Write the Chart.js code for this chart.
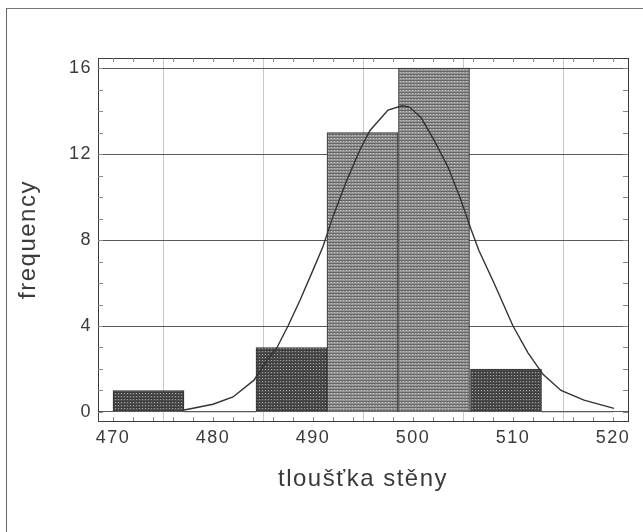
<!DOCTYPE html>
<html>
<head>
<meta charset="utf-8">
<title>tloušťka stěny</title>
<script src="https://cdn.jsdelivr.net/npm/chart.js@4"></script>
<style>
  body { margin: 0; background: #fff; }
  #frame { position: absolute; left: 6px; top: 8px; width: 700px; height: 600px; border-left: 1.5px solid #666; border-top: 1px solid #777; }
  #chart { position: absolute; left: 0; top: 0; }
</style>
</head>
<body>
<div id="frame"></div>
<canvas id="chart" width="643" height="532"></canvas>
<script>
// histogram bins (edges) and counts
const binEdges = [470, 477.1, 484.3, 491.4, 498.5, 505.7, 512.9, 520];
const binCounts = [1, 0, 3, 13, 16, 2, 0];

// fitted normal curve
const curveX = [477.0, 480.0, 482.0, 484.1, 485.4, 486.4, 487.5, 488.7, 490.0, 491.0,
  492.0, 493.4, 494.7, 495.7, 497.5, 498.9, 499.6, 500.8, 502.1, 503.5,
  504.8, 505.8, 506.6, 508.1, 510.0, 511.5, 513.0, 514.8, 517.1, 520.1];
const curveY = [0.08, 0.36, 0.7, 1.48, 2.4, 3.0, 4.0, 5.2, 6.6, 7.7,
  9.1, 10.8, 12.2, 13.1, 14.05, 14.25, 14.2, 13.7, 12.65, 11.4,
  9.85, 8.5, 7.5, 6.0, 4.0, 2.75, 1.75, 1.0, 0.55, 0.17];

const xTicks = [470, 480, 490, 500, 510, 520];
const yTicks = [0, 4, 8, 12, 16];

const xTitle = 'tloušťka stěny';
const yTitle = 'frequency';

function makePattern(base, line, dot) {
  let c = document.createElement('canvas');
  c.width = 3;
  c.height = 3;
  let g = c.getContext('2d');
  g.fillStyle = base;
  g.fillRect(0, 0, 3, 3);
  g.fillStyle = line;
  g.fillRect(0, 2, 3, 1);
  g.fillStyle = dot;
  g.fillRect(1, 0, 1, 1);
  return g.createPattern(c, 'repeat');
}

const darkFill = makePattern('#4e4e4e', '#3c3c3c', '#a0a0a0');
const lightFill = makePattern('#949494', '#666666', '#c4c4c4');

// frame round the plot, minor ticks, wider text like the scan
const framePlugin = {
  id: 'frame',
  beforeDraw(chart) {
    chart.ctx.letterSpacing = '1.5px';
  },
  afterDraw(chart) {
    const { ctx, chartArea: a, scales } = chart;
    ctx.save();
    ctx.strokeStyle = '#3a3a3a';
    ctx.lineWidth = 1;
    ctx.strokeRect(a.left + 0.5, a.top + 0.5, a.right - a.left, a.bottom - a.top);
    ctx.beginPath();
    for (let v = 0; v <= 16; v++) {
      let y = Math.round(scales.y.getPixelForValue(v)) + 0.5;
      ctx.moveTo(a.left, y);
      ctx.lineTo(a.left + 5, y);
      ctx.moveTo(a.right, y);
      ctx.lineTo(a.right - 5, y);
    }
    for (let v = 470; v <= 520; v += 2) {
      let x = Math.round(scales.x.getPixelForValue(v)) + 0.5;
      ctx.moveTo(x, a.top);
      ctx.lineTo(x, a.top + 4);
      ctx.moveTo(x, a.bottom);
      ctx.lineTo(x, a.bottom - 4);
    }
    ctx.strokeStyle = '#888';
    ctx.stroke();
    ctx.restore();
  }
};

const tickFont = { family: '"Liberation Sans", Arial, sans-serif', size: 18 };
const titleFont = { family: '"Liberation Sans", Arial, sans-serif', size: 24 };

new Chart(document.getElementById('chart'), {
  type: 'bar',
  data: {
    datasets: [
      {
        type: 'line',
        data: curveX.map((x, i) => ({ x: x, y: curveY[i] })),
        borderColor: '#333',
        borderWidth: 1.4,
        pointRadius: 0,
        tension: 0,
        order: 0
      },
      {
        type: 'bar',
        data: binCounts.map((c, i) => ({ x: (binEdges[i] + binEdges[i + 1]) / 2, y: c })),
        backgroundColor: ctx => (ctx.raw && ctx.raw.y >= 10) ? lightFill : darkFill,
        borderColor: '#2e2e2e',
        borderWidth: ctx => (ctx.raw && ctx.raw.y > 0) ? 1 : 0,
        barPercentage: 1,
        categoryPercentage: 1,
        order: 1
      }
    ]
  },
  options: {
    responsive: false,
    animation: false,
    layout: { padding: { left: 0, top: 58, right: 15, bottom: 0 } },
    plugins: {
      legend: { display: false },
      tooltip: { enabled: false }
    },
    scales: {
      x: {
        type: 'linear',
        min: 468.5,
        max: 521.5,
        offset: false,
        afterBuildTicks: scale => { scale.ticks = xTicks.map(v => ({ value: v })); },
        afterFit: scale => { scale.height = 111; },
        grid: { color: '#c8c8c8', drawTicks: false },
        border: { display: false },
        ticks: { color: '#3a3a3a', font: tickFont, padding: 6, maxRotation: 0 },
        title: { display: true, text: xTitle, color: '#3a3a3a', font: titleFont, padding: { top: 0, bottom: 38 } }
      },
      y: {
        min: -0.42,
        max: 16.47,
        afterBuildTicks: scale => { scale.ticks = yTicks.map(v => ({ value: v })); },
        afterFit: scale => { scale.width = 98; },
        grid: { color: '#5a5a5a', drawTicks: false },
        border: { display: false },
        ticks: { color: '#3a3a3a', font: tickFont, padding: 6 },
        title: { display: true, text: yTitle, color: '#3a3a3a', font: titleFont, padding: { top: 14, bottom: 0 } }
      }
    }
  },
  plugins: [framePlugin]
});
</script>
</body>
</html>
